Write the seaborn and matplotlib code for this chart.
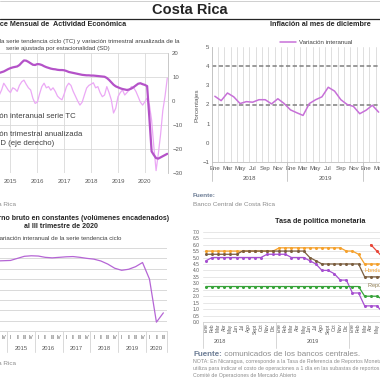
import numpy as np
import pandas as pd
import matplotlib
matplotlib.use('Agg')
import matplotlib.pyplot as plt
import matplotlib.transforms as mtransforms
from matplotlib.lines import Line2D
from matplotlib.ticker import FormatStrFormatter
import seaborn as sns

# ---------------------------------------------------------------- data
# IMAE: variación interanual serie TC y trimestral anualizada SD (jun 2014 - nov 2020)
imae_tc = [10.8, 11.2, 11.7, 12.0, 12.3, 12.8, 13.3,
           13.7, 14.0, 14.2, 14.4, 15.0, 16.0, 16.9, 16.8, 16.3, 15.7, 15.1, 15.0,
           15.4, 15.3, 15.0, 14.5, 14.1, 13.8, 13.5, 13.3, 13.2, 13.0, 12.9, 12.9,
           12.8, 12.5, 12.1, 11.9, 11.7, 11.5, 11.3, 11.1, 10.9, 10.8, 10.7, 10.7,
           10.6, 10.6, 10.5, 10.4, 10.3, 10.2, 10.1, 9.6, 8.8, 7.8, 6.8, 6.1,
           5.7, 5.3, 5.0, 4.8, 4.6, 4.8, 5.2, 5.8, 6.5, 7.2, 7.4, 7.0,
           6.7, 6.2, -7.0, -21.0, -22.5, -23.8, -24.0, -23.5, -23.0, -22.5, -22.0]
imae_sd = [1.0, 1.5, 2.5, 4.5, 7.4, 6.0, 4.5,
           3.5, 5.5, 5.0, 4.0, 6.5, 8.0, 8.7, 7.0, 5.5, 4.6, 1.1, -1.0,
           -0.5, 3.0, 6.0, 7.4, 5.5, 6.0, 4.5, 5.5, 4.0, 2.0, 1.1, 0.5,
           3.0, 6.0, 7.4, 6.5, 4.0, 2.0, 0.0, -1.7, -0.5, 2.5, 5.4, 6.5,
           7.0, 7.6, 5.5, 6.0, 3.5, 1.8, 2.5, 6.0, 3.5, 0.5, -5.0, -3.0,
           1.8, 3.5, 4.6, 2.5, 3.5, 4.6, 6.0, 5.5, 4.0, 1.8, -0.5, -1.7,
           -0.3, 1.2, -1.5, -8.0, -19.0, -29.0, -22.0, -14.0, -4.0, 2.0, 9.5]

# Inflación, variación interanual (ene 2018 - mar 2020)
inflacion = [2.43, 2.2, 2.6, 2.4, 2.05, 2.15, 2.12, 2.25, 2.25, 2.03, 2.3, 2.05,
             1.72, 1.57, 1.43, 2.05, 2.25, 2.4, 2.9, 2.7, 2.25, 2.0, 1.9, 1.52,
             1.7, 1.96, 1.6]
meta_inf, meta_sup = 2, 4

# PIB, variación interanual serie tendencia ciclo (I-2014 a III-2020)
pib_tc = [3.3, 3.4, 3.5, 3.55,
          3.6, 4.0, 4.4, 4.5,
          4.45, 4.2, 4.1, 4.2,
          4.3, 4.35, 4.2, 4.0,
          3.85, 3.5, 2.9, 2.1,
          1.7, 1.9, 2.4, 3.2,
          0.0, -8.3, -6.5]

# Tasa de política monetaria (ene 2018 - jun 2020)
tpm_honduras = [5.5] * 12 + [5.75] * 11 + [5.5, 5.5, 5.25, 4.5, 4.5, 4.5, 4.5]
tpm_rep_dom = [5.25] * 6 + [5.5] * 11 + [5.0, 4.75] + [4.5] * 7 + [3.5] * 4
tpm_costa_rica = [4.75] + [5.0] * 9 + [5.25] * 4 + [5.0] * 3 + [4.75, 4.5, 4.0, 4.0, 3.75,
                                                                3.25, 3.25, 2.25, 2.25, 1.25, 1.25, 1.25, 0.75]
tpm_guatemala = [2.75] * 26 + [2.0, 2.0, 2.0, 1.75]
tpm_nicaragua = [np.nan] * 27 + [6.0, 5.5, 5.0]

meses = ['Ene', 'Feb', 'Mar', 'Abr', 'May', 'Jun', 'Jul', 'Ago', 'Sept', 'Oct', 'Nov', 'Dic']
meses_inf = ['Ene', 'Feb', 'Mar', 'Abr', 'May', 'Jun', 'Jul', 'Ago', 'Sep', 'Oct', 'Nov', 'Dic']
trimestres = ['I', 'II', 'III', 'IV']

# ---------------------------------------------------------------- style
sns.set_theme(style='white')
plt.rcParams['font.family'] = ['Liberation Sans', 'DejaVu Sans']

W = H = 380
TXT = '#262626'
GREY_TXT = '#595959'
SRC = '#8c8c8c'
FUENTE = '#6d7d95'
GRID = '#d9d9d9'


def box(left, top, right, bottom):
    return [left / W, 1 - bottom / H, (right - left) / W, (bottom - top) / H]


def fx(x):
    return x / W


def fy(y):
    return 1 - y / H


fig = plt.figure(figsize=(3.8, 3.8), dpi=100)
fig.patch.set_facecolor('white')

fig.text(fx(190), fy(10.5), 'Costa Rica', fontsize=10.5, fontweight='bold',
         color=TXT, ha='center', va='center')
fig.add_artist(Line2D([0, 1], [fy(18.5)] * 2, transform=fig.transFigure, color=TXT, lw=0.9))
fig.add_artist(Line2D([0, 1], [fy(0.6)] * 2, transform=fig.transFigure, color='#c8c8c8', lw=0.6))

# ---------------------------------------------------------------- IMAE
imae = pd.DataFrame({'fecha': pd.date_range('2014-06-01', periods=len(imae_tc), freq='MS'),
                     'tc': imae_tc, 'sd': imae_sd})
imae['t'] = imae['fecha'].dt.year + (imae['fecha'].dt.month - 1) / 12

ax1 = fig.add_axes(box(-16.4, 53, 168, 173))
sns.lineplot(data=imae, x='t', y='sd', ax=ax1, color='#eba8f5', lw=0.9)
sns.lineplot(data=imae, x='t', y='tc', ax=ax1, color='#b452c8', lw=1.6)
ax1.set_xlim(2014, 2020.86)
ax1.set_ylim(-30, 20)
ax1.set_xticks(range(2014, 2021))
ax1.set_yticks(range(-30, 21, 10))
ax1.yaxis.tick_right()
ax1.grid(True, color=GRID, lw=0.6)
ax1.set_xlabel('')
ax1.set_ylabel('')
for s in ['top', 'left', 'bottom']:
    ax1.spines[s].set_visible(False)
ax1.spines['right'].set_color('#bfbfbf')
ax1.spines['right'].set_linewidth(0.6)
ax1.tick_params(length=0, labelsize=4.3, colors=GREY_TXT)
ax1.tick_params(axis='x', pad=4.3)
ax1.tick_params(axis='y', pad=3)

fig.text(fx(-12.8), fy(24), 'Índice Mensual de  Actividad Económica', fontsize=5.2,
         fontweight='bold', color=TXT, ha='left', va='center')
fig.text(fx(57.5), fy(41.5), 'Variación interanual de la serie tendencia ciclo (TC) y variación '
         'trimestral anualizada de la', fontsize=4.4, color='#404040', ha='center', va='center')
fig.text(fx(57.5), fy(48.8), 'serie ajustada por estacionalidad (SD)', fontsize=4.4,
         color='#404040', ha='center', va='center')
fig.text(fx(-23.8), fy(116.7), 'Variación interanual serie TC', fontsize=5.6,
         color='#404040', ha='left', va='center')
fig.text(fx(-23.8), fy(134.3), 'Variación trimestral anualizada', fontsize=5.6,
         color='#404040', ha='left', va='center')
fig.text(fx(-23.8), fy(143.3), 'serie SD (eje derecho)', fontsize=5.6,
         color='#404040', ha='left', va='center')
fig.text(fx(16), fy(204), 'Banco Central de Costa Rica', fontsize=4.6, color=SRC,
         ha='right', va='center')

# ---------------------------------------------------------------- inflación
infl = pd.DataFrame({'mes': range(len(inflacion)), 'valor': inflacion})
n_inf = 36
ax2 = fig.add_axes(box(211.7, 47, 211.7 + n_inf * 6.3, 162))
sns.lineplot(data=infl, x='mes', y='valor', ax=ax2, color='#c770d8', lw=1.1,
             label='Variación interanual')
for v in (meta_inf, meta_sup):
    ax2.axhline(v, color='#7f7f7f', lw=1.1, ls=(0, (2.8, 1.6)), zorder=1)
ax2.set_xlim(-0.5, n_inf - 0.5)
ax2.set_ylim(-1, 5)
ax2.set_yticks(range(-1, 6))
ax2.set_xticks(range(n_inf))
ax2.set_xticklabels([meses_inf[i % 12] if i % 2 == 0 else '' for i in range(n_inf)])
ax2.set_xticks(np.arange(-0.5, n_inf, 1), minor=True)
ax2.grid(axis='x', which='minor', color=GRID, lw=0.6)
ax2.set_xlabel('')
ax2.set_ylabel('')
for s in ['top', 'right']:
    ax2.spines[s].set_visible(False)
for s in ['left', 'bottom']:
    ax2.spines[s].set_color('#bfbfbf')
    ax2.spines[s].set_linewidth(0.6)
ax2.tick_params(which='both', length=0, labelsize=4.3, colors=GREY_TXT)
ax2.tick_params(axis='x', pad=3.2)
ax2.tick_params(axis='y', pad=1.6)
trans2 = mtransforms.blended_transform_factory(ax2.transData, ax2.transAxes)
for k, anio in enumerate(['2018', '2019', '2020']):
    ax2.axvline(k * 12 - 0.5, ymin=-19 / 115, ymax=0, clip_on=False, color='#bfbfbf', lw=0.6)
    ax2.text(k * 12 + 5.5, -16 / 115, anio, transform=trans2, fontsize=4.3,
             color=GREY_TXT, ha='center', va='center')
ax2.legend(loc='center', bbox_to_anchor=(fx(316), fy(42.3)), bbox_transform=fig.transFigure,
           frameon=False, fontsize=4.4, handlelength=2.6, handletextpad=0.5,
           labelcolor='#404040')
fig.text(fx(197), fy(105), 'Porcentajes', rotation=90, fontsize=4.6, color=GREY_TXT,
         ha='center', va='center')
fig.text(fx(320.5), fy(24), 'Inflación al mes de diciembre', fontsize=5.2,
         fontweight='bold', color=TXT, ha='center', va='center')
fig.text(fx(193), fy(195.5), 'Fuente:', fontsize=4.6, fontweight='bold', color=FUENTE,
         ha='left', va='center')
fig.text(fx(193), fy(204.5), 'Banco Central de Costa Rica', fontsize=4.6, color=SRC,
         ha='left', va='center')

# ---------------------------------------------------------------- PIB
n_q = len(pib_tc)
ax3 = fig.add_axes(box(-20.8, 248, -20.8 + n_q * 6.95, 331))
sns.lineplot(x=range(n_q), y=pib_tc, ax=ax3, color='#b565d5', lw=0.9)
ax3.set_xlim(-0.5, n_q - 0.5)
ax3.set_ylim(-10, 6)
ax3.set_yticks(range(-10, 7, 2))
ax3.set_xticks(range(n_q))
ax3.set_xticklabels([trimestres[i % 4] for i in range(n_q)])
ax3.grid(axis='y', color=GRID, lw=0.7)
for s in ['top', 'right', 'left']:
    ax3.spines[s].set_visible(False)
ax3.spines['bottom'].set_color(GRID)
ax3.spines['bottom'].set_linewidth(0.7)
ax3.tick_params(length=0, labelsize=3.6, colors=GREY_TXT)
ax3.tick_params(axis='x', pad=2.6)
trans3 = mtransforms.blended_transform_factory(ax3.transData, ax3.transAxes)
for k, anio in enumerate(range(2014, 2021)):
    ax3.axvline(k * 4 - 0.5, ymin=-21 / 83, ymax=0, clip_on=False, color=GRID, lw=0.7)
    centro = k * 4 + (min(4, n_q - k * 4) - 1) / 2
    ax3.text(centro, -18 / 83, str(anio), transform=trans3, fontsize=4.2,
             color=GREY_TXT, ha='center', va='center')
ax3.axvline(n_q - 0.5, ymin=-21 / 83, ymax=0, clip_on=False, color=GRID, lw=0.7)

fig.text(fx(61), fy(218.3), 'Producto interno bruto en constantes (volúmenes encadenados)',
         fontsize=5.0, fontweight='bold', color=TXT, ha='center', va='center')
fig.text(fx(61), fy(226.8), 'al III trimestre de 2020', fontsize=5.0, fontweight='bold',
         color=TXT, ha='center', va='center')
fig.text(fx(-4), fy(239), 'Variación interanual de la serie tendencia ciclo', fontsize=4.4,
         color='#404040', ha='left', va='center')
fig.text(fx(16), fy(363.3), 'Banco Central de Costa Rica', fontsize=4.6, color=SRC,
         ha='right', va='center')

# ---------------------------------------------------------------- TPM
tpm = pd.DataFrame({'mes': range(len(tpm_honduras)),
                    'Honduras': tpm_honduras,
                    'República Dominicana': tpm_rep_dom,
                    'Costa Rica': tpm_costa_rica,
                    'Guatemala': tpm_guatemala,
                    'Nicaragua': tpm_nicaragua})
tpm_largo = tpm.melt(id_vars='mes', var_name='pais', value_name='tasa').dropna()
colores = {'Honduras': '#f5a12c', 'República Dominicana': '#7b5e3f',
           'Costa Rica': '#a64fd0', 'Guatemala': '#37a33a', 'Nicaragua': '#e8483a'}

n_m = 36
ax4 = fig.add_axes(box(203, 231.7, 203 + n_m * 6.1, 322))
sns.lineplot(data=tpm_largo, x='mes', y='tasa', hue='pais', palette=colores, ax=ax4,
             marker='o', markersize=2.2, markeredgewidth=0, lw=0.9, errorbar=None,
             legend=False)
ax4.set_xlim(-0.5, n_m - 0.5)
ax4.set_ylim(0, 7)
ax4.set_yticks(np.arange(0, 7.01, 0.5))
ax4.yaxis.set_major_formatter(FormatStrFormatter('%.1f'))
ax4.set_xticks(range(n_m))
ax4.set_xticklabels([meses[i % 12] for i in range(n_m)], rotation=90)
ax4.grid(axis='y', color='#e3e3e3', lw=0.6)
ax4.set_xlabel('')
ax4.set_ylabel('')
for s in ['top', 'right', 'left']:
    ax4.spines[s].set_visible(False)
ax4.spines['bottom'].set_color('#d0d0d0')
ax4.spines['bottom'].set_linewidth(0.6)
ax4.tick_params(length=0, labelsize=3.5, colors=GREY_TXT)
ax4.tick_params(axis='x', pad=1.2)
ax4.tick_params(axis='y', pad=2.2)
trans4 = mtransforms.blended_transform_factory(ax4.transData, ax4.transAxes)
for k in range(4):
    ax4.axvline(k * 12 - 0.5, ymin=-26 / 90.3, ymax=0, clip_on=False, color='#d0d0d0', lw=0.6)
ax4.text(2.2, -19.7 / 90.3, '2018', transform=trans4, fontsize=4.0, color=GREY_TXT,
         ha='center', va='center')
ax4.text(17.5, -19.7 / 90.3, '2019', transform=trans4, fontsize=4.0, color=GREY_TXT,
         ha='center', va='center')
ax4.text(26, 4.03, 'Honduras', color=colores['Honduras'], fontsize=4.0, ha='left', va='center')
ax4.text(26.5, 2.8, 'República Dominicana', color='#8c7a4f', fontsize=4.0, ha='left',
         va='center')

fig.text(fx(320), fy(221.5), 'Tasa de política monetaria', fontsize=5.2, fontweight='bold',
         color=TXT, ha='center', va='center')
t_f = fig.text(fx(193), fy(354.5), 'Fuente:', fontsize=5.8, fontweight='bold', color=FUENTE,
               ha='left', va='center')
ax4.annotate(' comunicados de los bancos centrales.', xy=(1, 0.5), xycoords=t_f,
             fontsize=5.8, color=SRC, ha='left', va='center')
notas = ['NOTA: En Nicaragua, corresponde a la Tasa de Referencia de Reportos Monetarios',
         'utiliza para indicar el costo de operaciones a 1 día en las subastas de reportos monetarios',
         'Comité de Operaciones de Mercado Abierto']
for k, nota in enumerate(notas):
    fig.text(fx(193), fy(361.8 + 6.9 * k), nota, fontsize=3.8, color=SRC, ha='left', va='center')

fig.savefig('out.png', dpi=100, facecolor='white')
